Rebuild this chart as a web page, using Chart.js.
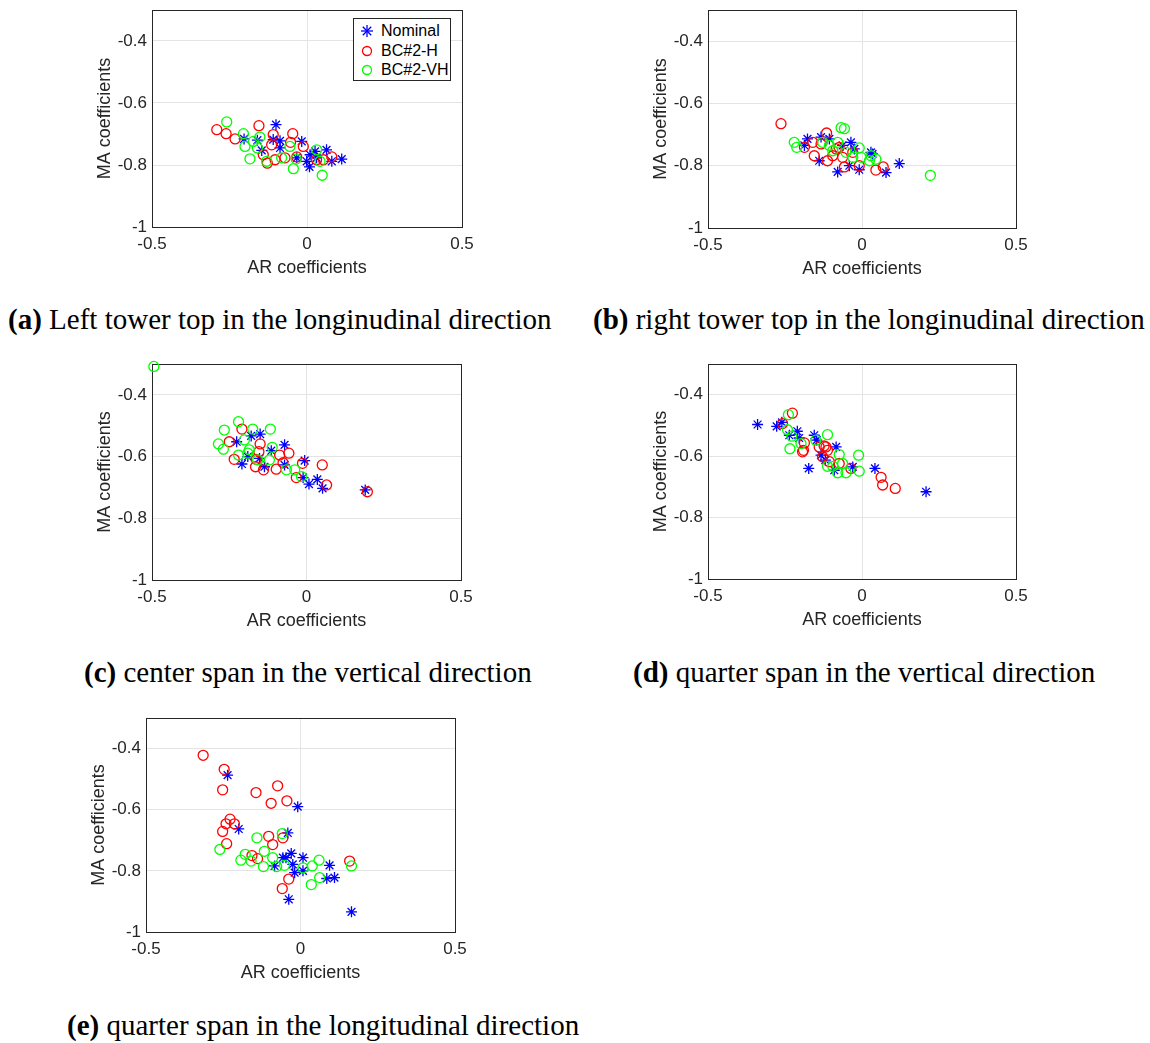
<!DOCTYPE html>
<html lang="en">
<head>
<meta charset="utf-8">
<script src="https://cdn.jsdelivr.net/npm/chart.js@4.4.1/dist/chart.umd.min.js"></script>
<style>
  body { margin: 0; background: #fff; }
  #page { position: relative; width: 1150px; height: 1043px; overflow: hidden; background: #fff; }
  canvas { position: absolute; }
  .cap { position: absolute; font-family: "Liberation Serif", "Times New Roman", serif; font-size: 29px; line-height: 29px; color: #000; white-space: nowrap; }
  .legend { position: absolute; left: 353px; top: 18px; width: 98px; height: 63px; border: 1px solid #262626; background: #fff;
            font-family: "Liberation Sans", Arial, sans-serif; font-size: 16px; color: #000; box-sizing: border-box; }
  .legend div { position: absolute; left: 0; width: 96px; height: 20px; line-height: 20px; white-space: nowrap; }
  .legend svg { position: absolute; left: 7px; top: 4px; }
  .legend span { position: absolute; left: 27px; white-space: nowrap; }
</style>
</head>
<body>
<div id="page">
  <canvas id="ca"></canvas>
  <canvas id="cb"></canvas>
  <canvas id="cc"></canvas>
  <canvas id="cd"></canvas>
  <canvas id="ce"></canvas>

  <div class="legend">
    <div style="top:2px"><svg width="12" height="12"><g stroke="#0000ff" stroke-width="1.3"><line x1="6" y1="0" x2="6" y2="12"/><line x1="0" y1="6" x2="12" y2="6"/><line x1="1.8" y1="1.8" x2="10.2" y2="10.2"/><line x1="10.2" y1="1.8" x2="1.8" y2="10.2"/></g></svg><span>Nominal</span></div>
    <div style="top:22px"><svg width="12" height="12"><circle cx="6" cy="6" r="4.5" fill="none" stroke="#ff0000" stroke-width="1.3"/></svg><span>BC#2-H</span></div>
    <div style="top:41px"><svg width="12" height="12"><circle cx="6" cy="6" r="4.5" fill="none" stroke="#00ff00" stroke-width="1.3"/></svg><span>BC#2-VH</span></div>
  </div>

  <div class="cap" style="left:8px; top:305px"><b>(a)</b> Left tower top in the longinudinal direction</div>
  <div class="cap" style="left:593px; top:305px"><b>(b)</b> right tower top in the longinudinal direction</div>
  <div class="cap" style="left:84px; top:658px"><b>(c)</b> center span in the vertical direction</div>
  <div class="cap" style="left:633px; top:658px"><b>(d)</b> quarter span in the vertical direction</div>
  <div class="cap" style="left:67px; top:1011px"><b>(e)</b> quarter span in the longitudinal direction</div>
</div>

<script>
// axis ticks shared by all five panels
const xTicks = [-0.5, 0, 0.5];
const yTicks = [-1, -0.8, -0.6, -0.4];
const xRange = [-0.5, 0.5];
const yRange = [-1, -0.3];

// [AR, MA] pairs
// (a) left tower top, longitudinal
const aNominal = [[-0.100,-0.670],[-0.203,-0.716],[-0.160,-0.720],[-0.109,-0.718],[-0.087,-0.722],[-0.017,-0.724],[-0.146,-0.753],[-0.087,-0.745],[0.010,-0.767],[0.026,-0.756],[0.063,-0.751],[-0.001,-0.788],[0.008,-0.806],[0.080,-0.788],[0.112,-0.781],[-0.033,-0.777],[0.031,-0.777]];
const aH = [[-0.291,-0.686],[-0.261,-0.699],[-0.232,-0.716],[-0.155,-0.673],[-0.109,-0.702],[-0.046,-0.699],[-0.114,-0.735],[-0.053,-0.727],[-0.012,-0.740],[-0.128,-0.794],[-0.103,-0.783],[-0.071,-0.777],[-0.033,-0.774],[0.031,-0.783],[0.053,-0.783],[0.080,-0.774],[-0.141,-0.767]];
const aVH = [[-0.259,-0.661],[-0.205,-0.699],[-0.152,-0.710],[-0.200,-0.740],[-0.160,-0.745],[-0.184,-0.780],[-0.130,-0.788],[-0.082,-0.777],[-0.055,-0.740],[-0.035,-0.781],[-0.044,-0.812],[0.031,-0.751],[0.042,-0.788],[0.049,-0.833],[-0.173,-0.724]];

// (b) right tower top, longitudinal
const bNominal = [[-0.177,-0.714],[-0.133,-0.708],[-0.106,-0.714],[-0.139,-0.784],[-0.036,-0.725],[-0.025,-0.746],[-0.079,-0.820],[-0.041,-0.800],[-0.009,-0.813],[0.029,-0.757],[0.034,-0.762],[0.078,-0.822],[0.121,-0.793],[-0.063,-0.735],[-0.187,-0.735]];
const bH = [[-0.263,-0.665],[-0.115,-0.695],[-0.187,-0.741],[-0.160,-0.725],[-0.155,-0.768],[-0.112,-0.784],[-0.133,-0.730],[-0.084,-0.746],[-0.063,-0.773],[-0.057,-0.804],[-0.009,-0.800],[-0.030,-0.757],[0.045,-0.814],[0.069,-0.804],[-0.095,-0.768],[-0.074,-0.741]];
const bVH = [[-0.220,-0.725],[-0.212,-0.741],[-0.068,-0.678],[-0.057,-0.681],[-0.128,-0.725],[-0.079,-0.725],[-0.106,-0.735],[-0.009,-0.743],[-0.052,-0.757],[-0.003,-0.773],[0.029,-0.768],[0.045,-0.779],[0.024,-0.784],[0.222,-0.831],[-0.095,-0.752],[-0.030,-0.773]];

// (c) center span, vertical
const cNominal = [[-0.226,-0.552],[-0.179,-0.533],[-0.150,-0.527],[-0.071,-0.562],[-0.114,-0.581],[-0.209,-0.624],[-0.190,-0.600],[-0.136,-0.633],[-0.071,-0.627],[-0.006,-0.613],[-0.011,-0.668],[0.008,-0.689],[0.035,-0.674],[0.052,-0.703],[0.190,-0.708],[-0.152,-0.606]];
const cH = [[-0.250,-0.552],[-0.209,-0.511],[-0.150,-0.559],[-0.234,-0.609],[-0.163,-0.609],[-0.154,-0.584],[-0.087,-0.595],[-0.057,-0.589],[-0.165,-0.633],[-0.139,-0.643],[-0.098,-0.641],[-0.076,-0.620],[-0.013,-0.622],[-0.033,-0.668],[0.051,-0.627],[0.065,-0.692],[0.197,-0.714]];
const cVH = [[-0.494,-0.308],[-0.266,-0.514],[-0.220,-0.487],[-0.174,-0.511],[-0.117,-0.511],[-0.285,-0.559],[-0.269,-0.576],[-0.201,-0.546],[-0.185,-0.578],[-0.190,-0.589],[-0.220,-0.595],[-0.111,-0.570],[-0.120,-0.611],[-0.065,-0.643],[-0.038,-0.643],[-0.016,-0.665],[-0.158,-0.611]];

// (d) quarter span, vertical
const dNominal = [[-0.339,-0.497],[-0.277,-0.503],[-0.260,-0.490],[-0.236,-0.532],[-0.210,-0.519],[-0.204,-0.541],[-0.155,-0.532],[-0.147,-0.548],[-0.084,-0.570],[-0.173,-0.640],[-0.133,-0.597],[-0.119,-0.613],[-0.090,-0.646],[-0.030,-0.635],[0.042,-0.640],[0.208,-0.716]];
const dH = [[-0.226,-0.460],[-0.258,-0.494],[-0.187,-0.557],[-0.190,-0.581],[-0.193,-0.586],[-0.123,-0.567],[-0.117,-0.570],[-0.112,-0.581],[-0.128,-0.602],[-0.106,-0.618],[-0.074,-0.624],[-0.036,-0.640],[0.062,-0.669],[0.067,-0.694],[0.108,-0.705],[-0.139,-0.570]];
const dVH = [[-0.239,-0.465],[-0.242,-0.514],[-0.228,-0.535],[-0.234,-0.576],[-0.150,-0.548],[-0.112,-0.530],[-0.198,-0.559],[-0.011,-0.597],[-0.009,-0.649],[-0.052,-0.654],[-0.079,-0.654],[-0.112,-0.633],[-0.074,-0.595],[-0.063,-0.624],[-0.095,-0.633]];

// (e) quarter span, longitudinal
const eNominal = [[-0.236,-0.487],[-0.009,-0.590],[-0.200,-0.663],[-0.041,-0.676],[-0.057,-0.757],[-0.030,-0.743],[0.008,-0.757],[-0.084,-0.784],[-0.025,-0.779],[-0.019,-0.806],[0.008,-0.800],[0.094,-0.782],[0.085,-0.825],[0.110,-0.822],[-0.038,-0.893],[0.165,-0.934],[-0.047,-0.757]];
const eH = [[-0.315,-0.422],[-0.247,-0.468],[-0.252,-0.535],[-0.144,-0.544],[-0.074,-0.522],[-0.095,-0.579],[-0.044,-0.571],[-0.228,-0.631],[-0.241,-0.646],[-0.214,-0.646],[-0.252,-0.671],[-0.239,-0.711],[-0.103,-0.687],[-0.057,-0.692],[-0.090,-0.714],[-0.157,-0.750],[-0.139,-0.760],[-0.038,-0.827],[-0.059,-0.858],[0.159,-0.768]];
const eVH = [[-0.261,-0.730],[-0.179,-0.746],[-0.193,-0.765],[-0.160,-0.768],[-0.141,-0.692],[-0.117,-0.736],[-0.120,-0.786],[-0.090,-0.757],[-0.077,-0.786],[-0.059,-0.678],[-0.052,-0.782],[0.008,-0.790],[0.038,-0.784],[0.060,-0.765],[0.062,-0.822],[0.035,-0.845],[0.165,-0.784]];

const AXIS_COLOR = "#262626";
const GRID_COLOR = "#e4e4e4";
const SANS = "'Liberation Sans', Arial, sans-serif";

// y-axis box width and x-axis box height so every plot box lands where it does in the figure
const Y_BOX = 64;
const X_BOX = 56;
const PAD_TOP = 18;   // more than half a tick label, so Chart.js doesn't push the top down
const PAD_RIGHT = 24;

// draw the full MATLAB-style box round the axes
const framePlugin = {
  id: "frame",
  beforeDatasetsDraw(chart) {
    const a = chart.chartArea;
    const ctx = chart.ctx;
    ctx.save();
    ctx.strokeStyle = AXIS_COLOR;
    ctx.lineWidth = 1;
    ctx.strokeRect(Math.round(a.left) + 0.5, Math.round(a.top) + 0.5, Math.round(a.right - a.left), Math.round(a.bottom - a.top));
    ctx.restore();
  }
};

function toPoints(pairs) {
  return pairs.map(p => ({ x: p[0], y: p[1] }));
}

function makePanel(id, box, nominal, h, vh) {
  const canvas = document.getElementById(id);
  const w = (box.right - box.left) + Y_BOX + PAD_RIGHT;
  const hgt = (box.bottom - box.top) + PAD_TOP + X_BOX;
  canvas.width = w;
  canvas.height = hgt;
  canvas.style.left = (box.left - Y_BOX) + "px";
  canvas.style.top = (box.top - PAD_TOP) + "px";
  canvas.style.width = w + "px";
  canvas.style.height = hgt + "px";

  new Chart(canvas.getContext("2d"), {
    type: "scatter",
    data: {
      datasets: [
        {
          label: "Nominal",
          data: toPoints(nominal),
          pointStyle: "star",
          pointRadius: 5.5,
          borderColor: "#0000ff",
          backgroundColor: "#0000ff",
          borderWidth: 1.3,
          clip: false,
          order: 3
        },
        {
          label: "BC#2-H",
          data: toPoints(h),
          pointStyle: "circle",
          pointRadius: 5,
          borderColor: "#ff0000",
          backgroundColor: "rgba(0,0,0,0)",
          borderWidth: 1.3,
          clip: false,
          order: 2
        },
        {
          label: "BC#2-VH",
          data: toPoints(vh),
          pointStyle: "circle",
          pointRadius: 5,
          borderColor: "#00ff00",
          backgroundColor: "rgba(0,0,0,0)",
          borderWidth: 1.3,
          clip: false,
          order: 1
        }
      ]
    },
    options: {
      responsive: false,
      animation: false,
      devicePixelRatio: 1,
      layout: { padding: { top: PAD_TOP, right: PAD_RIGHT, left: 0, bottom: 0 } },
      plugins: { legend: { display: false }, tooltip: { enabled: false } },
      elements: { point: { hoverRadius: 5 } },
      scales: {
        x: {
          type: "linear",
          min: xRange[0],
          max: xRange[1],
          afterBuildTicks: s => { s.ticks = xTicks.map(v => ({ value: v })); },
          afterFit: s => { s.height = X_BOX; },
          grid: { color: GRID_COLOR, drawTicks: false },
          border: { display: false },
          ticks: {
            padding: 7,
            maxRotation: 0,
            autoSkip: false,
            color: AXIS_COLOR,
            font: { family: SANS, size: 17 },
            callback: v => String(v)
          },
          title: {
            display: true,
            text: "AR coefficients",
            color: AXIS_COLOR,
            font: { family: SANS, size: 18 },
            padding: { top: 0, bottom: 4 }
          }
        },
        y: {
          type: "linear",
          min: yRange[0],
          max: yRange[1],
          afterBuildTicks: s => { s.ticks = yTicks.map(v => ({ value: v })); },
          afterFit: s => { s.width = Y_BOX; },
          grid: { color: GRID_COLOR, drawTicks: false },
          border: { display: false },
          ticks: {
            padding: 5,
            color: AXIS_COLOR,
            font: { family: SANS, size: 17 },
            callback: v => String(v)
          },
          title: {
            display: true,
            text: "MA coefficients",
            color: AXIS_COLOR,
            font: { family: SANS, size: 18 },
            padding: { top: 6, bottom: 0 }
          }
        }
      }
    },
    plugins: [framePlugin]
  });
}

makePanel("ca", { left: 152, top: 10, right: 462, bottom: 227 }, aNominal, aH, aVH);
makePanel("cb", { left: 708, top: 10, right: 1016, bottom: 228 }, bNominal, bH, bVH);
makePanel("cc", { left: 152, top: 364, right: 461, bottom: 580 }, cNominal, cH, cVH);
makePanel("cd", { left: 708, top: 364, right: 1016, bottom: 579 }, dNominal, dH, dVH);
makePanel("ce", { left: 146, top: 718, right: 455, bottom: 932 }, eNominal, eH, eVH);
</script>
</body>
</html>
